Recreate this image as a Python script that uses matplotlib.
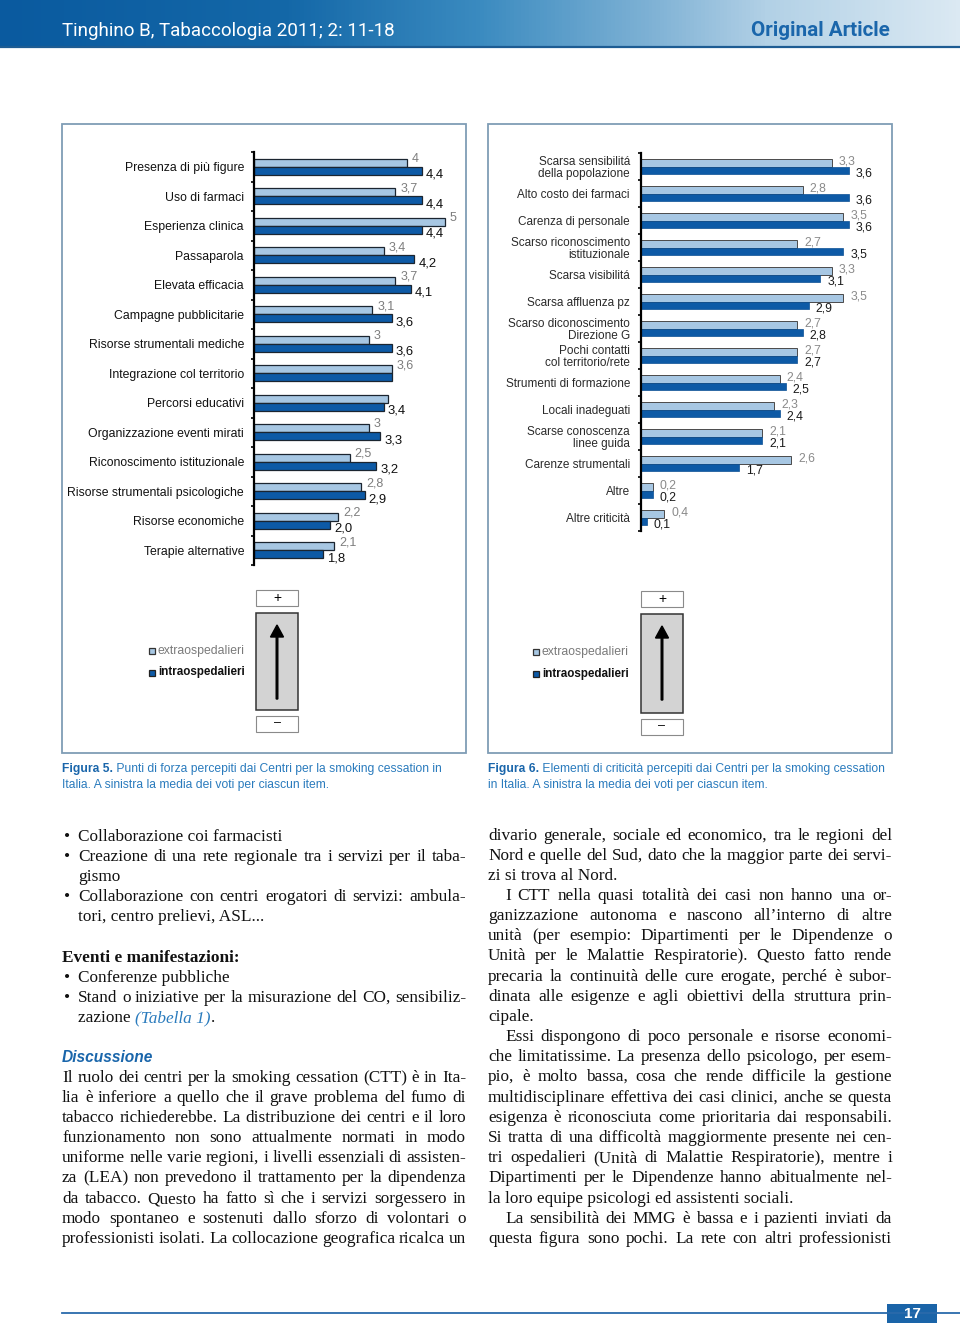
import numpy as np
import matplotlib.pyplot as plt
from matplotlib.patches import Rectangle, FancyArrow
from matplotlib.colors import LinearSegmentedColormap

# ── dati: Figura 5 (punti di forza) ───────────────────────────────────────────
forza_cat = ['Presenza di più figure', 'Uso di farmaci', 'Esperienza clinica',
             'Passaparola', 'Elevata efficacia', 'Campagne pubblicitarie',
             'Risorse strumentali mediche', 'Integrazione col territorio',
             'Percorsi educativi', 'Organizzazione eventi mirati',
             'Riconoscimento istituzionale', 'Risorse strumentali psicologiche',
             'Risorse economiche', 'Terapie alternative']
forza_extra = [4.0, 3.7, 5.0, 3.4, 3.7, 3.1, 3.0, 3.6, 3.5, 3.0, 2.5, 2.8, 2.2, 2.1]
forza_intra = [4.4, 4.4, 4.4, 4.2, 4.1, 3.6, 3.6, 3.6, 3.4, 3.3, 3.2, 2.9, 2.0, 1.8]
forza_extra_lab = ['4', '3,7', '5', '3,4', '3,7', '3,1', '3', '3,6', '', '3',
                   '2,5', '2,8', '2,2', '2,1']
forza_intra_lab = ['4,4', '4,4', '4,4', '4,2', '4,1', '3,6', '3,6', '', '3,4',
                   '3,3', '3,2', '2,9', '2,0', '1,8']

# ── dati: Figura 6 (criticità) ────────────────────────────────────────────────
crit_cat = ['Scarsa sensibilitá\ndella popolazione', 'Alto costo dei farmaci',
            'Carenza di personale', 'Scarso riconoscimento\nistituzionale',
            'Scarsa visibilitá', 'Scarsa affluenza pz',
            'Scarso diconoscimento\nDirezione G', 'Pochi contatti\ncol territorio/rete',
            'Strumenti di formazione', 'Locali inadeguati',
            'Scarse conoscenza\nlinee guida', 'Carenze strumentali', 'Altre',
            'Altre criticità']
crit_extra = [3.3, 2.8, 3.5, 2.7, 3.3, 3.5, 2.7, 2.7, 2.4, 2.3, 2.1, 2.6, 0.2, 0.4]
crit_intra = [3.6, 3.6, 3.6, 3.5, 3.1, 2.9, 2.8, 2.7, 2.5, 2.4, 2.1, 1.7, 0.2, 0.1]

legend_labels = ['extraospedalieri', 'intraospedalieri']

# ── testo della pagina ────────────────────────────────────────────────────────
header_left = 'Tinghino B, Tabaccologia 2011; 2: 11-18'
header_right = 'Original Article'
cap5 = ['Figura 5.', ' Punti di forza percepiti dai Centri per la smoking cessation in',
        'Italia. A sinistra la media dei voti per ciascun item.']
cap6 = ['Figura 6.', ' Elementi di criticità percepiti dai Centri per la smoking cessation',
        'in Italia. A sinistra la media dei voti per ciascun item.']

# (y, tipo, testo, giustificato)  tipo: b=punto elenco, c=continua, p=normale,
# i=rientro, h=titoletto grassetto
left_col = [
    (837, 'b', 'Collaborazione coi farmacisti', False),
    (857, 'b', 'Creazione di una rete regionale tra i servizi per il taba-', True),
    (877, 'c', 'gismo', False),
    (897, 'b', 'Collaborazione con centri erogatori di servizi: ambula-', True),
    (917, 'c', 'tori, centro prelievi, ASL...', False),
    (958, 'h', 'Eventi e manifestazioni:', False),
    (978, 'b', 'Conferenze pubbliche', False),
    (998, 'b', 'Stand o iniziative per la misurazione del CO, sensibiliz-', True),
    (1078, 'p', 'Il ruolo dei centri per la smoking cessation (CTT) è in Ita-', True),
    (1098, 'p', 'lia è inferiore a quello che il grave problema del fumo di', True),
    (1118, 'p', 'tabacco richiederebbe. La distribuzione dei centri e il loro', True),
    (1138, 'p', 'funzionamento non sono attualmente normati in modo', True),
    (1158, 'p', 'uniforme nelle varie regioni, i livelli essenziali di assisten-', True),
    (1178, 'p', 'za (LEA) non prevedono il trattamento per la dipendenza', True),
    (1199, 'p', 'da tabacco. Questo ha fatto sì che i servizi sorgessero in', True),
    (1219, 'p', 'modo spontaneo e sostenuti dallo sforzo di volontari o', True),
    (1239, 'p', 'professionisti isolati. La collocazione geografica ricalca un', True),
]
right_col = [
    (836, 'p', 'divario generale, sociale ed economico, tra le regioni del', True),
    (856, 'p', 'Nord e quelle del Sud, dato che la maggior parte dei servi-', True),
    (876, 'p', 'zi si trova al Nord.', False),
    (896, 'i', 'I CTT nella quasi totalità dei casi non hanno una or-', True),
    (916, 'p', 'ganizzazione autonoma e nascono all’interno di altre', True),
    (936, 'p', 'unità (per esempio: Dipartimenti per le Dipendenze o', True),
    (956, 'p', 'Unità per le Malattie Respiratorie). Questo fatto rende', True),
    (977, 'p', 'precaria la continuità delle cure erogate, perché è subor-', True),
    (997, 'p', 'dinata alle esigenze e agli obiettivi della struttura prin-', True),
    (1017, 'p', 'cipale.', False),
    (1037, 'i', 'Essi dispongono di poco personale e risorse economi-', True),
    (1057, 'p', 'che limitatissime. La presenza dello psicologo, per esem-', True),
    (1077, 'p', 'pio, è molto bassa, cosa che rende difficile la gestione', True),
    (1098, 'p', 'multidisciplinare effettiva dei casi clinici, anche se questa', True),
    (1118, 'p', 'esigenza è riconosciuta come prioritaria dai responsabili.', True),
    (1138, 'p', 'Si tratta di una difficoltà maggiormente presente nei cen-', True),
    (1158, 'p', 'tri ospedalieri (Unità di Malattie Respiratorie), mentre i', True),
    (1178, 'p', 'Dipartimenti per le Dipendenze hanno abitualmente nel-', True),
    (1199, 'p', 'la loro equipe psicologi ed assistenti sociali.', False),
    (1219, 'i', 'La sensibilità dei MMG è bassa e i pazienti inviati da', True),
    (1239, 'p', 'questa figura sono pochi. La rete con altri professionisti', True),
]

# ── stile ─────────────────────────────────────────────────────────────────────
SANS = 'Liberation Sans'
SERIF = 'Liberation Serif'
BODY = 12.4
MIN_GAP = 3.2
LIGHT = '#a7c7e3'
DARK = '#0d5aa6'
BLUE_TXT = '#2a7bbd'
BLUE_HEAD = '#1a66ab'
INK = '#111111'

W, H = 960, 1326
fig = plt.figure(figsize=(W / 100, H / 100), dpi=100)
page = fig.add_axes([0, 0, 1, 1])
renderer = fig.canvas.get_renderer()


def px_axes(x, y, w, h):
    ax = fig.add_axes([x / W, 1 - (y + h) / H, w / W, h / H])
    ax.set_facecolor('none')
    return ax


def text_w(s, **kw):
    t = page.text(0, 0, s, **kw)
    w = t.get_window_extent(renderer).width
    t.remove()
    return w


# ── intestazione ──────────────────────────────────────────────────────────────
hdr = LinearSegmentedColormap.from_list('hdr', [(0, '#0a5a9f'), (0.3, '#1468a8'),
                                                (0.5, '#3b8bc0'), (0.68, '#7fb2d5'),
                                                (0.8, '#b2d1e6'), (1, '#dbe9f3')])
page.imshow(np.linspace(0, 1, 256).reshape(1, -1), cmap=hdr,
            extent=(0, W, 46, 0), aspect='auto', zorder=0)
page.set_xlim(0, W)
page.set_ylim(H, 0)
page.axis('off')
page.plot([0, W], [47, 47], color='#1d5c93', lw=1.6)

fam_h = 'Roboto'
s0 = text_w(header_left, family=fam_h, size=10)
page.text(62, 31, header_left, family=fam_h, size=10 * 332 / s0, color='white',
          va='center', ha='left')
s1 = text_w(header_right, family=fam_h, size=10, weight='bold')
page.text(890, 31, header_right, family=fam_h, size=10 * 139 / s1, color=BLUE_HEAD,
          weight='bold', va='center', ha='right')

# ── riquadri delle figure ─────────────────────────────────────────────────────
for x0 in (62, 488):
    page.add_patch(Rectangle((x0, 124), 404, 629, fill=False, ec='#7f9db5', lw=1.3))

# ── Figura 5 ──────────────────────────────────────────────────────────────────
ax = px_axes(254, 152, 210, 413)
y = np.arange(len(forza_cat))
ax.barh(y - 0.135, forza_extra, height=0.27, color=LIGHT, edgecolor='#1b2530', lw=0.9)
ax.barh(y + 0.135, forza_intra, height=0.27, color=DARK, edgecolor='#1b2530', lw=0.9)
ax.set_xlim(0, 210 / 38.2)
ax.set_ylim(len(forza_cat) - 0.5, -0.5)
for i in range(len(forza_cat)):
    if forza_extra_lab[i]:
        ax.annotate(forza_extra_lab[i], (forza_extra[i], i - 0.27), xytext=(5, 0),
                    textcoords='offset pixels', va='center', ha='left',
                    family=SANS, size=9, color='#7d7d7d')
    if forza_intra_lab[i]:
        ax.annotate(forza_intra_lab[i], (forza_intra[i], i + 0.27), xytext=(4, 0),
                    textcoords='offset pixels', va='center', ha='left',
                    family=SANS, size=9.4, color=INK)
ax.set_yticks(y)
ax.set_yticklabels(forza_cat, family=SANS, size=8.8, color=INK)
ax.set_yticks(np.arange(-0.5, len(forza_cat)), minor=True)
ax.tick_params(axis='y', which='major', length=0, pad=7.2)
ax.tick_params(axis='y', which='minor', length=2.5, width=1.2, color='black')
ax.set_xticks([])
for sp in ('top', 'right', 'bottom'):
    ax.spines[sp].set_visible(False)
ax.spines['left'].set_linewidth(1.6)

# ── Figura 6 ──────────────────────────────────────────────────────────────────
ax2 = px_axes(641, 153, 250, 378)
y2 = np.arange(len(crit_cat))
ax2.barh(y2 - 0.1425, crit_extra, height=0.285, color=LIGHT, edgecolor='#4a4a4a', lw=0.7)
ax2.barh(y2 + 0.1425, crit_intra, height=0.285, color=DARK, edgecolor='#0b4f93', lw=0.5)
ax2.set_xlim(0, 250 / 57.8)
ax2.set_ylim(len(crit_cat) - 0.5, -0.5)
for i in range(len(crit_cat)):
    ax2.annotate(f'{crit_extra[i]:.1f}'.replace('.', ','), (crit_extra[i], i - 0.18),
                 xytext=(7, 0), textcoords='offset pixels', va='center', ha='left',
                 family=SANS, size=8.8, color='#8a8a8a')
    ax2.annotate(f'{crit_intra[i]:.1f}'.replace('.', ','), (crit_intra[i], i + 0.25),
                 xytext=(7, 0), textcoords='offset pixels', va='center', ha='left',
                 family=SANS, size=8.8, color='#1a1a1a')
ax2.set_yticks(y2)
ax2.set_yticklabels(crit_cat, family=SANS, size=8.5, color='#2a2a2a', linespacing=1.0)
ax2.set_yticks(np.arange(-0.5, len(crit_cat)), minor=True)
ax2.tick_params(axis='y', which='major', length=0, pad=8)
ax2.tick_params(axis='y', which='minor', length=2.5, width=1.2, color='black')
ax2.set_xticks([])
for sp in ('top', 'right', 'bottom'):
    ax2.spines[sp].set_visible(False)
ax2.spines['left'].set_linewidth(1.6)

# ── legende e frecce +/− ──────────────────────────────────────────────────────
for lx, ly, bx, by in ((149, 648, 256, 590), (533, 649, 641, 591)):
    page.add_patch(Rectangle((lx, ly), 6, 6, fc=LIGHT, ec='#333333', lw=0.9))
    page.add_patch(Rectangle((lx, ly + 21.5), 6, 6, fc=DARK, ec='#222222', lw=0.9))
    page.text(lx + 9, ly + 3, legend_labels[0], family=SANS, size=8.8,
              color='#7a7a7a', va='center')
    page.text(lx + 9, ly + 24.5, legend_labels[1], family=SANS, size=8.4,
              weight='bold', color=INK, va='center')
    page.add_patch(Rectangle((bx, by), 42, 16, fc='white', ec='#8a8a8a', lw=0.8))
    page.text(bx + 21, by + 8, '+', family=SANS, size=10, ha='center', va='center')
    page.add_patch(Rectangle((bx, by + 23), 42, 97 if bx < 400 else 99,
                             fc='#d3d3d3', ec='#333333', lw=1.1))
    mb = by + 126 if bx < 400 else by + 128
    page.add_patch(Rectangle((bx, mb), 42, 16, fc='white', ec='#8a8a8a', lw=0.8))
    page.text(bx + 21, mb + 7, '–', family=SANS, size=9, ha='center', va='center')
    page.add_patch(FancyArrow(bx + 21, by + 109, 0, -74, width=1.6, head_width=13,
                              head_length=12, length_includes_head=True,
                              fc='black', ec='black'))

# ── didascalie ────────────────────────────────────────────────────────────────
CAP = 8.7
for cx, cap in ((62, cap5), (488, cap6)):
    t = page.text(cx, 772, cap[0], family=SANS, size=CAP, weight='bold',
                  color=BLUE_HEAD, va='baseline')
    bw = t.get_window_extent(renderer).width
    page.text(cx + bw, 772, cap[1], family=SANS, size=CAP, color=BLUE_TXT,
              va='baseline')
    page.text(cx, 788, cap[2], family=SANS, size=CAP, color=BLUE_TXT, va='baseline')


# ── testo a due colonne, giustificato ─────────────────────────────────────────
def put_line(x0, x1, yb, s, justify, weight='normal'):
    kw = dict(family=SERIF, size=BODY, weight=weight, color=INK, va='baseline')
    if not justify:
        page.text(x0, yb, s, **kw)
        return
    words = s.split(' ')
    widths = [text_w(w, **kw) for w in words]
    need = sum(widths) + MIN_GAP * (len(words) - 1)
    if need > x1 - x0:
        # riga troppo lunga: rimpicciolisce leggermente il corpo
        kw['size'] = BODY * (x1 - x0 - MIN_GAP * (len(words) - 1)) / sum(widths)
        widths = [text_w(w, **kw) for w in words]
    gap = (x1 - x0 - sum(widths)) / (len(words) - 1)
    x = x0
    for w, wd in zip(words, widths):
        page.text(x, yb, w, **kw)
        x += wd + gap


for x0, x1, col in ((62, 466, left_col), (488, 892, right_col)):
    for yc, kind, s, just in col:
        yb = yc + 4
        if kind == 'b':
            page.text(x0 + 2, yb, '•', family=SERIF, size=BODY, va='baseline',
                      color=INK)
            put_line(x0 + 16, x1, yb, s, just)
        elif kind == 'c':
            put_line(x0 + 16, x1, yb, s, just)
        elif kind == 'i':
            put_line(x0 + 17, x1, yb, s, just)
        elif kind == 'h':
            put_line(x0, x1, yb, s, just, weight='bold')
        else:
            put_line(x0, x1, yb, s, just)

# riga con rimando alla tabella
kw = dict(family=SERIF, size=BODY, color=INK, va='baseline')
page.text(78, 1022, 'zazione ', **kw)
xw = 78 + text_w('zazione x', **kw) - text_w('x', **kw)
t = page.text(xw, 1022, '(Tabella 1)', family=SERIF, size=BODY, style='italic',
              color=BLUE_TXT, va='baseline')
xw += t.get_window_extent(renderer).width
page.text(xw, 1022, '.', **kw)

page.text(62, 1062, 'Discussione', family=SANS, size=11.2, weight='bold',
          style='italic', color=BLUE_HEAD, va='baseline')

# ── piè di pagina ─────────────────────────────────────────────────────────────
page.plot([62, W], [1313, 1313], color='#2a6aab', lw=1.3)
page.add_patch(Rectangle((887, 1304), 50, 19, fc='#1a64a8', ec='none'))
page.text(912, 1314, '17', family=SANS, size=11, weight='bold', color='white',
          ha='center', va='center')

fig.savefig('out.png', dpi=100)
